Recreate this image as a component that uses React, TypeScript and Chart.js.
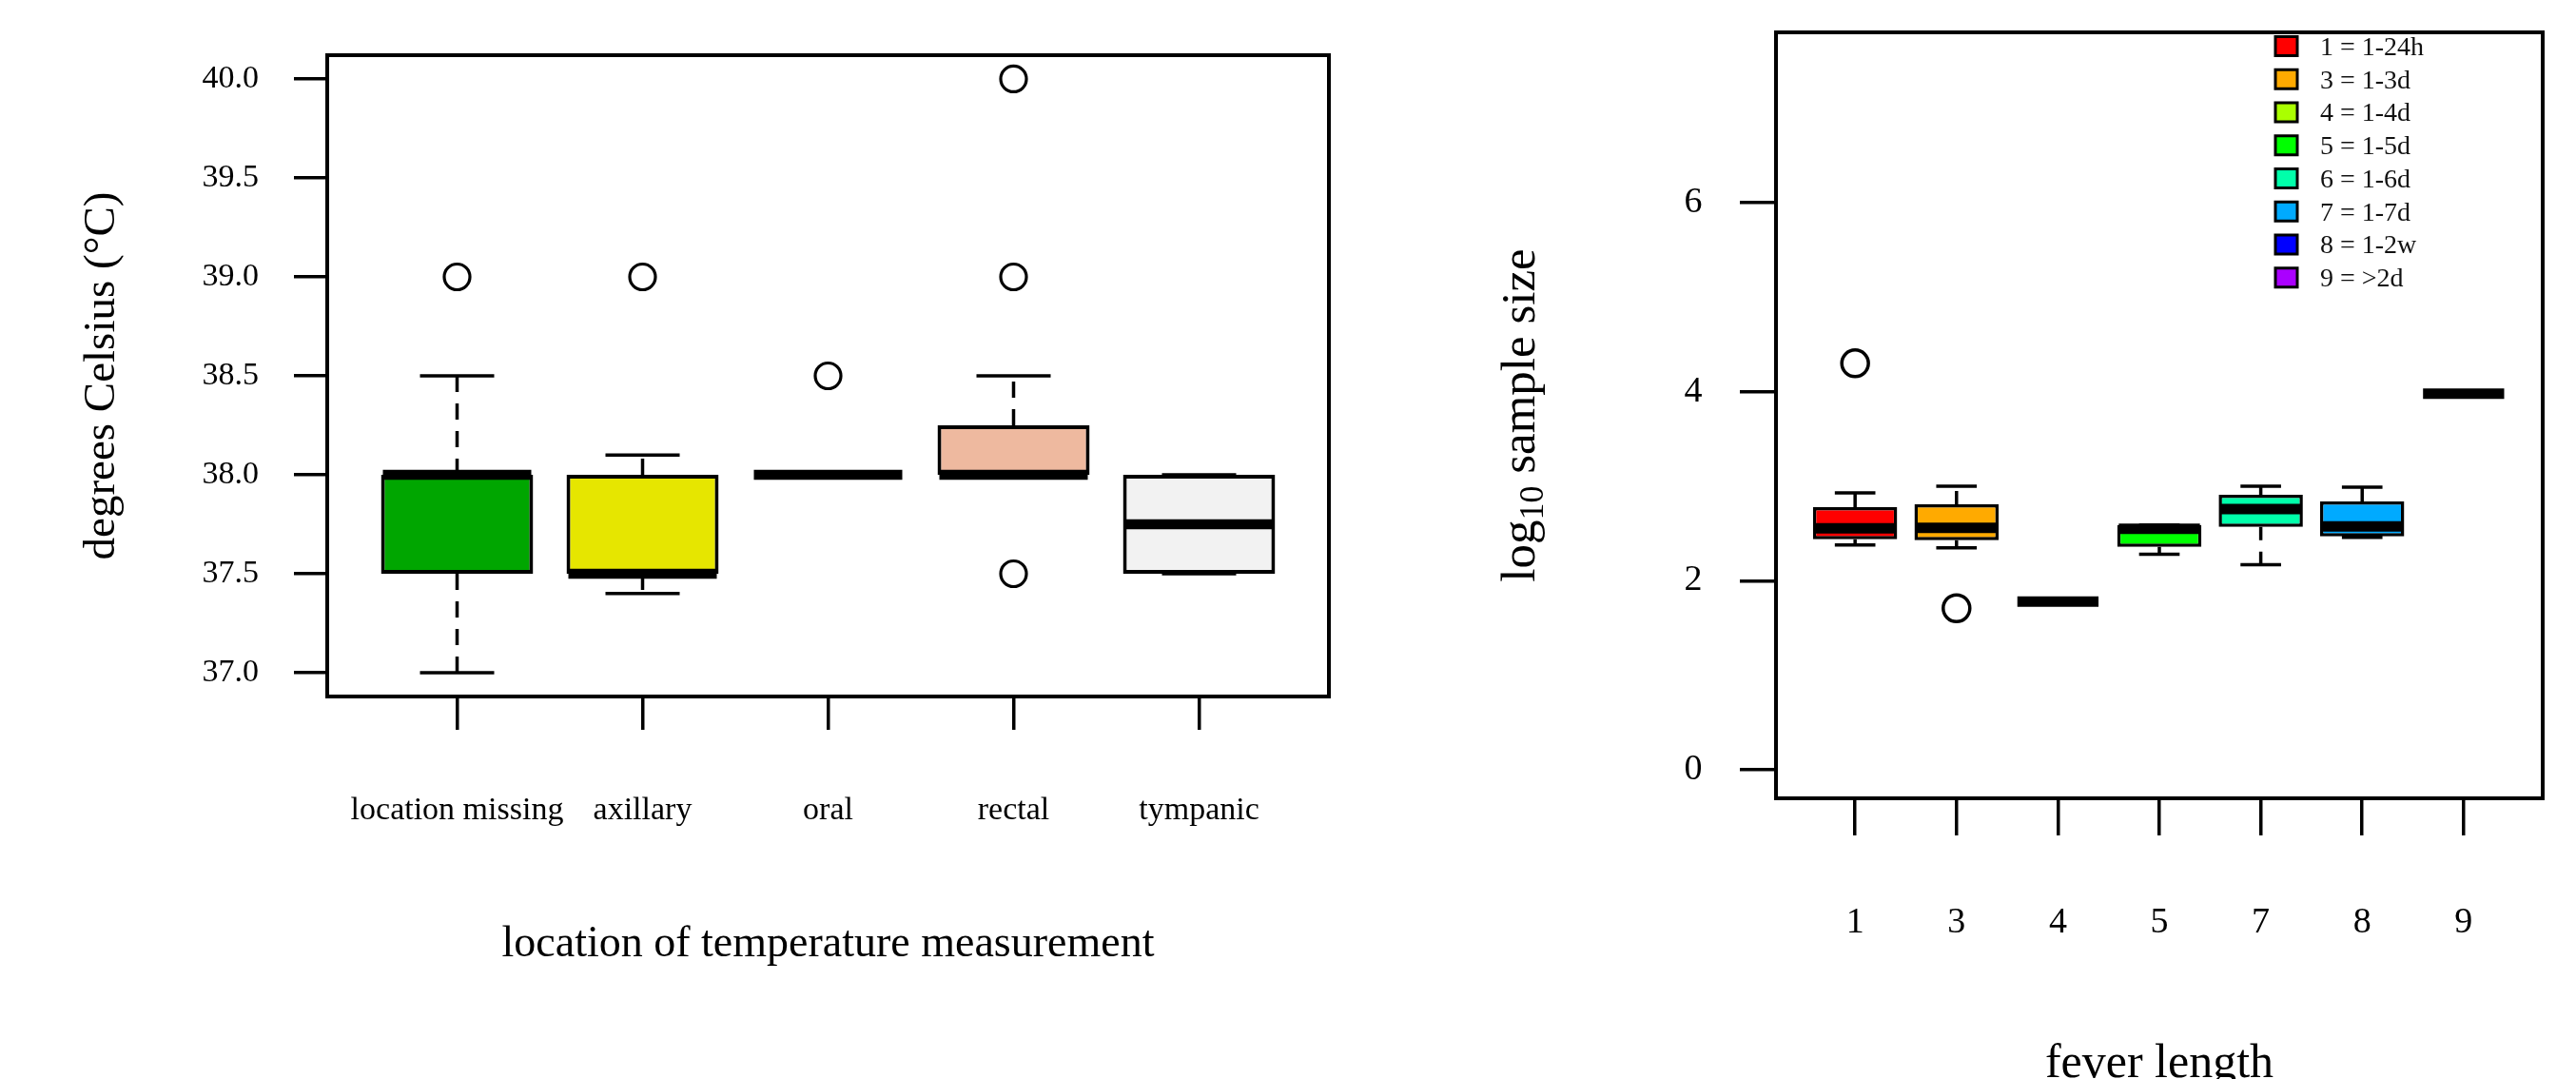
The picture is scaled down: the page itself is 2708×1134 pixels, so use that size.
import React, { useEffect, useRef } from 'react';
import { Chart, registerables } from 'chart.js';

Chart.register(...registerables);

const SERIF = '"Liberation Serif", "Times New Roman", Times, serif';

// ---- Left panel: body temperature by location of measurement ----
const tempCategories = ['location missing', 'axillary', 'oral', 'rectal', 'tympanic'];
const tempLowerWhisker = [37.0, 37.4, 38.0, 38.0, 37.5];
const tempQ1 = [37.5, 37.5, 38.0, 38.0, 37.5];
const tempMedian = [38.0, 37.5, 38.0, 38.0, 37.75];
const tempQ3 = [38.0, 38.0, 38.0, 38.25, 38.0];
const tempUpperWhisker = [38.5, 38.1, 38.0, 38.5, 38.0];
const tempOutliers = [[39.0], [39.0], [38.5], [37.5, 39.0, 40.0], []];
const tempColors = ['#00A600', '#E6E600', '#EAB64E', '#EEB99F', '#F2F2F2'];
const tempYTicks = [37.0, 37.5, 38.0, 38.5, 39.0, 39.5, 40.0];
const tempYRange = [36.88, 40.12];

// ---- Right panel: log10 sample size by fever length ----
const feverCategories = ['1', '3', '4', '5', '7', '8', '9'];
const feverLowerWhisker = [2.38, 2.35, 1.78, 2.28, 2.17, 2.46, 3.98];
const feverQ1 = [2.44, 2.43, 1.78, 2.36, 2.57, 2.47, 3.98];
const feverMedian = [2.555, 2.56, 1.78, 2.55, 2.76, 2.575, 3.98];
const feverQ3 = [2.78, 2.81, 1.78, 2.59, 2.91, 2.84, 3.98];
const feverUpperWhisker = [2.93, 3.0, 1.78, 2.59, 3.0, 2.99, 3.98];
const feverOutliers = [[4.3], [1.71], [], [], [], [], []];
const feverBoxColors = ['#FF0000', '#FFAA00', '#AAFF00', '#00FF00', '#00FFAA', '#00AAFF', '#0000FF'];
const feverYTicks = [0, 2, 4, 6];
const feverYRange = [-0.3, 7.8];
const feverLegendLabels = ['1 = 1-24h', '3 = 1-3d', '4 = 1-4d', '5 = 1-5d', '6 = 1-6d', '7 = 1-7d', '8 = 1-2w', '9 = >2d'];
const feverLegendColors = ['#FF0000', '#FFAA00', '#AAFF00', '#00FF00', '#00FFAA', '#00AAFF', '#0000FF', '#AA00FF'];

function unitPx(chart: any, u: number) {
  const s = chart.scales.x;
  return Math.abs(s.getPixelForValue(u) - s.getPixelForValue(0));
}

function boxDatasets(
  lower: number[], q1: number[], median: number[], q3: number[], upper: number[],
  outliers: number[][], colors: string[], st: any
) {
  const whiskers: any[] = [];
  const caps: any[] = [];
  q1.forEach((_, i) => {
    const x = i + 1;
    whiskers.push({ x, y: q3[i] }, { x, y: upper[i] }, { x, y: null }, { x, y: q1[i] }, { x, y: lower[i] }, { x, y: null });
    caps.push({ x, y: lower[i] }, { x, y: upper[i] });
  });
  const boxes = q1.map((v, i) => ({ x: i + 1, y: [v, q3[i]] }));
  const meds = median.map((v, i) => ({ x: i + 1, y: v }));
  const outs: any[] = [];
  outliers.forEach((arr, i) => arr.forEach((v) => outs.push({ x: i + 1, y: v })));
  return [
    {
      type: 'line', data: whiskers, borderColor: '#000', borderWidth: st.whisker, borderDash: st.dash,
      pointRadius: 0, spanGaps: false, fill: false, tension: 0, order: 5,
    },
    {
      type: 'bar', data: boxes, backgroundColor: colors, borderColor: '#000', borderWidth: st.boxBorder,
      borderSkipped: false, barPercentage: st.barPct, categoryPercentage: 1, order: 4,
    },
    {
      type: 'scatter', data: caps, pointStyle: 'line', pointRadius: (c: any) => unitPx(c.chart, 0.2),
      pointBorderWidth: st.whisker, pointBorderColor: '#000', order: 3,
    },
    {
      type: 'scatter', data: meds, pointStyle: 'line', pointRadius: (c: any) => unitPx(c.chart, 0.4),
      pointBorderWidth: st.median, pointBorderColor: '#000', order: 2,
    },
    {
      type: 'scatter', data: outs, pointStyle: 'circle', pointRadius: st.outR, pointBorderWidth: st.outBorder,
      pointBorderColor: '#000', pointBackgroundColor: 'rgba(0,0,0,0)', order: 1,
    },
  ];
}

const framePlugin = {
  id: 'frame',
  afterDatasetsDraw(chart: any) {
    const { ctx, chartArea: a } = chart;
    ctx.save();
    ctx.strokeStyle = '#000';
    ctx.lineWidth = 4;
    ctx.strokeRect(a.left, a.top, a.right - a.left, a.bottom - a.top);
    ctx.restore();
  },
};

function xAxis(labels: string[], o: any) {
  return {
    type: 'linear', min: 1 - o.ext, max: labels.length + o.ext, bounds: 'data', offset: false,
    afterBuildTicks: (axis: any) => { axis.ticks = labels.map((_, i) => ({ value: i + 1 })); },
    afterFit: (axis: any) => {
      axis.height = o.height;
      axis.paddingLeft = 0; axis.paddingRight = 0; axis.paddingTop = 0; axis.paddingBottom = 0;
    },
    grid: {
      display: true, drawOnChartArea: false, drawTicks: true, tickLength: o.tickLen, lineWidth: 3.5,
      tickWidth: 3.5, color: '#000', tickColor: '#000', offset: false,
    },
    border: { display: false },
    ticks: {
      autoSkip: false, maxRotation: 0, minRotation: 0, padding: o.pad, color: '#000',
      font: { family: SERIF, size: o.font, lineHeight: 1 },
      callback: (v: number) => labels[Math.round(v) - 1] ?? '',
    },
    title: {
      display: !!o.title, text: o.title, color: '#000',
      font: { family: SERIF, size: o.titleSize, lineHeight: 1 },
      padding: { top: 0, bottom: o.titlePad },
    },
  };
}

function yAxis(ticksArr: number[], range: number[], o: any) {
  return {
    type: 'linear', min: range[0], max: range[1], bounds: 'data',
    afterBuildTicks: (axis: any) => { axis.ticks = ticksArr.map((v) => ({ value: v })); },
    afterFit: (axis: any) => {
      axis.width = o.width;
      axis.paddingLeft = 0; axis.paddingRight = 0; axis.paddingTop = 0; axis.paddingBottom = 0;
    },
    grid: {
      display: true, drawOnChartArea: false, drawTicks: true, tickLength: o.tickLen, lineWidth: 3.5,
      tickWidth: 3.5, color: '#000', tickColor: '#000',
    },
    border: { display: false },
    ticks: {
      padding: o.pad, color: '#000', font: { family: SERIF, size: o.font, lineHeight: 1 },
      callback: (v: number) => o.fmt(v),
    },
    title: {
      display: !!o.title, text: o.title, color: '#000',
      font: { family: SERIF, size: o.titleSize, lineHeight: 1 },
      padding: { top: o.titlePad, bottom: 0 },
    },
  };
}

const feverExtrasPlugin = {
  id: 'feverExtras',
  afterDraw(chart: any) {
    const { ctx, chartArea: a } = chart;
    ctx.save();
    // legend
    feverLegendLabels.forEach((lab, i) => {
      const sx = a.right - 281;
      const cy = a.top + 14.5 + i * 34.75;
      ctx.fillStyle = feverLegendColors[i];
      ctx.fillRect(sx, cy - 10, 23, 20);
      ctx.strokeStyle = '#000';
      ctx.lineWidth = 3;
      ctx.strokeRect(sx, cy - 10, 23, 20);
      ctx.fillStyle = '#111';
      ctx.font = `28px ${SERIF}`;
      ctx.textAlign = 'left';
      ctx.textBaseline = 'middle';
      ctx.fillText(lab, a.right - 234, cy + 2);
    });
    // y-axis title with subscript
    const big = 51;
    const small = 36;
    const parts = [
      { t: 'log', s: big, dy: 0 },
      { t: '10', s: small, dy: 9 },
      { t: ' sample size', s: big, dy: 0 },
    ];
    let total = 0;
    parts.forEach((p) => { ctx.font = `${p.s}px ${SERIF}`; total += ctx.measureText(p.t).width; });
    ctx.translate(a.left - 254, (a.top + a.bottom) / 2);
    ctx.rotate(-Math.PI / 2);
    ctx.fillStyle = '#000';
    ctx.textAlign = 'left';
    ctx.textBaseline = 'alphabetic';
    let x = -total / 2;
    parts.forEach((p) => {
      ctx.font = `${p.s}px ${SERIF}`;
      ctx.fillText(p.t, x, p.dy);
      x += ctx.measureText(p.t).width;
    });
    ctx.restore();
  },
};

function leftConfig(): any {
  return {
    type: 'scatter',
    data: {
      datasets: boxDatasets(tempLowerWhisker, tempQ1, tempMedian, tempQ3, tempUpperWhisker, tempOutliers, tempColors, {
        whisker: 3.5, dash: [17, 12], boxBorder: 4, barPct: 0.82, median: 10.5, outR: 13.5, outBorder: 3.2,
      }),
    },
    options: {
      responsive: false, animation: false, devicePixelRatio: 1, events: [],
      layout: { autoPadding: false, padding: { left: 0, top: 58, right: 53, bottom: 0 } },
      plugins: { legend: { display: false }, tooltip: { enabled: false }, title: { display: false } },
      scales: {
        x: xAxis(tempCategories, {
          ext: 0.7, height: 402, tickLen: 35, pad: 68, font: 34,
          title: 'location of temperature measurement', titleSize: 46, titlePad: 118,
        }),
        y: yAxis(tempYTicks, tempYRange, {
          width: 344, tickLen: 35, pad: 37, font: 34, fmt: (v: number) => v.toFixed(1),
          title: 'degrees Celsius (\u00B0C)', titleSize: 47, titlePad: 84,
        }),
      },
    },
    plugins: [framePlugin],
  };
}

function rightConfig(): any {
  return {
    type: 'scatter',
    data: {
      datasets: boxDatasets(feverLowerWhisker, feverQ1, feverMedian, feverQ3, feverUpperWhisker, feverOutliers, feverBoxColors, {
        whisker: 3.5, dash: [14, 12], boxBorder: 3.5, barPct: 0.83, median: 11, outR: 14, outBorder: 3.5,
      }),
    },
    options: {
      responsive: false, animation: false, devicePixelRatio: 1, events: [],
      layout: { autoPadding: false, padding: { left: 0, top: 34, right: 35, bottom: 0 } },
      plugins: { legend: { display: false }, tooltip: { enabled: false }, title: { display: false } },
      scales: {
        x: xAxis(feverCategories, {
          ext: 0.78, height: 295, tickLen: 39, pad: 73, font: 38,
          title: 'fever length', titleSize: 50, titlePad: -9.5,
        }),
        y: yAxis(feverYTicks, feverYRange, {
          width: 417, tickLen: 38, pad: 39.5, font: 38, fmt: (v: number) => String(v),
          title: '', titleSize: 50, titlePad: 0,
        }),
      },
    },
    plugins: [framePlugin, feverExtrasPlugin],
  };
}

export default function App() {
  const leftRef = useRef<HTMLCanvasElement>(null);
  const rightRef = useRef<HTMLCanvasElement>(null);
  useEffect(() => {
    document.body.style.margin = '0';
    const c1 = new Chart(leftRef.current as HTMLCanvasElement, leftConfig());
    const c2 = new Chart(rightRef.current as HTMLCanvasElement, rightConfig());
    return () => { c1.destroy(); c2.destroy(); };
  }, []);
  return (
    <div style={{ position: 'relative', width: 2708, height: 1134, overflow: 'hidden', background: '#fff' }}>
      <canvas ref={leftRef} width={1450} height={1134} style={{ position: 'absolute', left: 0, top: 0 }} />
      <canvas ref={rightRef} width={1258} height={1134} style={{ position: 'absolute', left: 1450, top: 0 }} />
    </div>
  );
}
